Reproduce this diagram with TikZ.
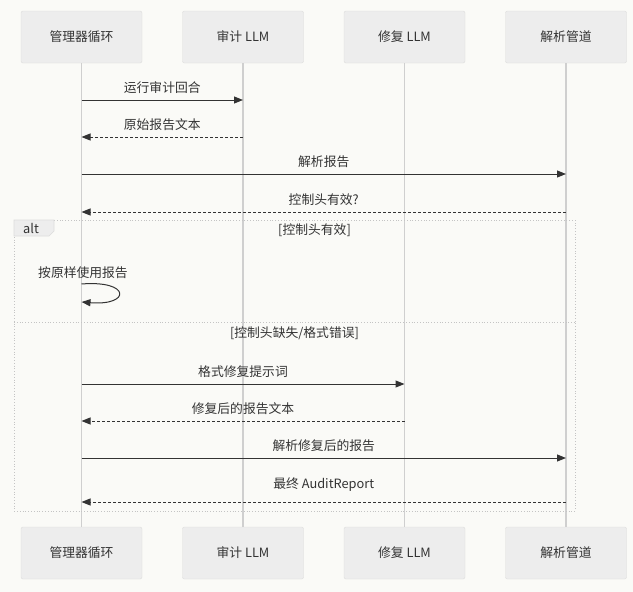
\documentclass[tikz,border=0pt]{standalone}
\usepackage{fontspec}
\setmainfont{Noto Sans CJK SC}
\usetikzlibrary{arrows.meta}

\definecolor{bg}{HTML}{FAFAF7}
\definecolor{boxfill}{HTML}{EDEDED}
\definecolor{boxline}{HTML}{DCDCDC}
\definecolor{ink}{HTML}{333333}
\definecolor{life}{HTML}{CFCFCF}
\definecolor{frame}{HTML}{C4C4C4}

\tikzstyle{actor} = [rectangle, draw=boxline, fill=boxfill, text=ink, rounded corners=2pt, minimum width=121pt, minimum height=52pt, font=\fontsize{12.8}{14}\selectfont]
\tikzstyle{lifeline} = [draw=life, line width=1.2pt]
\tikzstyle{msg} = [draw=ink, line width=1pt, -{Triangle[length=9pt,width=7pt]}]
\tikzstyle{reply} = [msg, dash pattern=on 3pt off 2pt]
\tikzstyle{lbl} = [text=ink, inner sep=0pt, font=\fontsize{12.8}{14}\selectfont]
\tikzstyle{altframe} = [draw=frame, line width=0.8pt, dotted]

\begin{document}
\begin{tikzpicture}[x=1pt, y=1pt, node distance=161.5pt]
                \fill [bg] (0,0) rectangle (633,-592);
                \useasboundingbox (0,0) rectangle (633,-592);

                % participants
                \node (mgr) [actor] at (81.5,-37) {管理器循环};
                \node (audit) [actor, right of=mgr] {审计 LLM};
                \node (repair) [actor, right of=audit] {修复 LLM};
                \node (parse) [actor, right of=repair] {解析管道};
                \node (mgrB) [actor, below of=mgr, node distance=516pt] {管理器循环};
                \node (auditB) [actor, below of=audit, node distance=516pt] {审计 LLM};
                \node (repairB) [actor, below of=repair, node distance=516pt] {修复 LLM};
                \node (parseB) [actor, below of=parse, node distance=516pt] {解析管道};

                \draw [lifeline] (mgr.south) -- (mgrB.north);
                \draw [lifeline] (audit.south) -- (auditB.north);
                \draw [lifeline] (repair.south) -- (repairB.north);
                \draw [lifeline] (parse.south) -- (parseB.north);

                % message rows
                \coordinate (r1) at (0,-100);
                \coordinate (r2) at (0,-137);
                \coordinate (r3) at (0,-174);
                \coordinate (r4) at (0,-212);
                \coordinate (s1) at (0,-284);
                \coordinate (s2) at (0,-302);
                \coordinate (r5) at (0,-384);
                \coordinate (r6) at (0,-421);
                \coordinate (r7) at (0,-458);
                \coordinate (r8) at (0,-502);

                \draw [msg] (mgr |- r1) -- (audit |- r1) node [lbl, midway, above=5.5pt] (run) {运行审计回合};
                \draw [reply] (audit |- r2) -- (mgr |- r2) node [lbl, midway, above=5.5pt] (raw) {原始报告文本};
                \draw [msg] (mgr |- r3) -- (parse |- r3) node [lbl, midway, above=5.5pt] (parsereq) {解析报告};
                \draw [reply] (parse |- r4) -- (mgr |- r4) node [lbl, midway, above=5.5pt] (valid) {控制头有效?};

                % alt block
                \draw [altframe] (14,-220) rectangle (575,-511);
                \draw [altframe] (14,-322) -- (575,-322);
                \filldraw [fill=boxfill, draw=boxline, line width=0.6pt] (14,-220) -- (54,-220) -- (54,-231) -- (49,-236) -- (14,-236) -- cycle;
                \node (alttag) [lbl] at (31,-228) {alt};
                \node (guard1) [lbl] at (314.5,-230) {[控制头有效]};
                \node (guard2) [lbl] at (294.5,-333) {[控制头缺失/格式错误]};

                \node (keep) [lbl] at (83,-273) {按原样使用报告};
                \draw [msg] (mgr |- s1) .. controls (131,-280) and (131,-306) .. (mgr |- s2);

                \draw [msg] (mgr |- r5) -- (repair |- r5) node [lbl, midway, above=5.5pt] (fixprompt) {格式修复提示词};
                \draw [reply] (repair |- r6) -- (mgr |- r6) node [lbl, midway, above=5.5pt] (fixed) {修复后的报告文本};
                \draw [msg] (mgr |- r7) -- (parse |- r7) node [lbl, midway, above=5.5pt] (reparse) {解析修复后的报告};
                \draw [reply] (parse |- r8) -- (mgr |- r8) node [lbl, midway, above=10pt] (final) {最终 AuditReport};
            \end{tikzpicture}
\end{document}
